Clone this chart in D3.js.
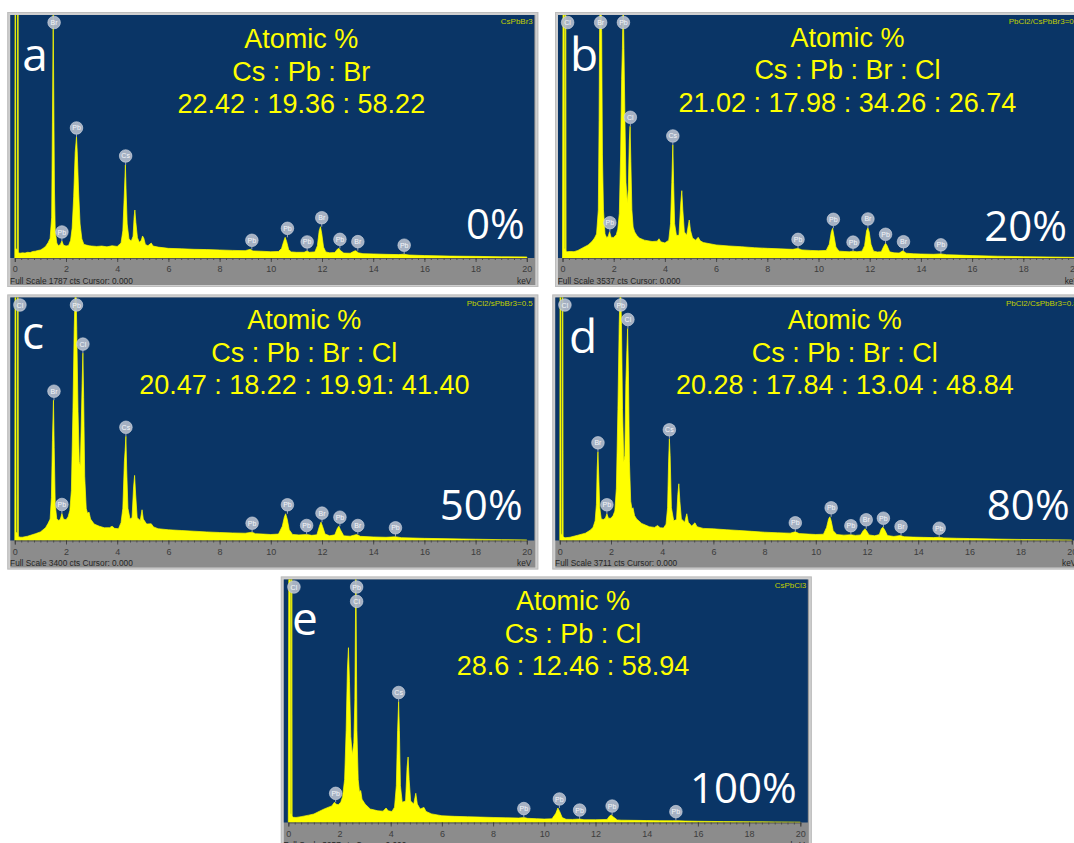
<!DOCTYPE html>
<html>
<head>
<meta charset="utf-8">
<script src="https://cdn.jsdelivr.net/npm/d3@7"></script>
<style>
  html, body { margin: 0; padding: 0; background: #ffffff; }
  svg { display: block; }
</style>
</head>
<body>
<svg id="fig" width="1074" height="843"></svg>
<script>
// ---------- data ----------
const panelLetters = ["a", "b", "c", "d", "e"];
const exchangeLevels = ["0%", "20%", "50%", "80%", "100%"];
const sampleNames = ["CsPbBr3", "PbCl2/CsPbBr3=0.2", "PbCl2/sPbBr3=0.5", "PbCl2/CsPbBr3=0.8", "CsPbCl3"];
const fullScaleCounts = [1787, 3537, 3400, 3711, 3957];
const titleLine = "Atomic %";
const elementHeaders = ["Cs : Pb : Br", "Cs : Pb : Br : Cl", "Cs : Pb : Br : Cl", "Cs : Pb : Br : Cl", "Cs : Pb : Cl"];
const atomicRatios = [
  "22.42 : 19.36 : 58.22",
  "21.02 : 17.98 : 34.26 : 26.74",
  "20.47 : 18.22 : 19.91: 41.40",
  "20.28 : 17.84 : 13.04 : 48.84",
  "28.6 : 12.46 : 58.94"
];
const keVTicks = [0, 2, 4, 6, 8, 10, 12, 14, 16, 18, 20];
const keVMinorTicks = d3.range(0, 20.001, 0.25);

// spectra: [energy keV, counts]
const spectrumA = [[0,0],[0.01,1900],[0.03,1900],[0.04,70],[0.1,60],[0.11,1900],[0.13,1900],[0.14,40],
  [0.2,35],[0.3,38],[0.4,36],[0.5,42],[0.6,40],[0.7,48],[0.8,50],[0.9,55],[1.0,59],[1.1,70],[1.2,85],[1.3,113],
  [1.38,145],[1.44,300],[1.47,1000],[1.50,1787],[1.52,1250],[1.55,500],[1.58,200],[1.64,110],[1.7,90],[1.78,100],
  [1.84,125],[1.9,95],[2.0,88],[2.1,92],[2.18,130],[2.24,220],[2.3,450],[2.36,780],[2.41,890],[2.44,780],[2.49,500],
  [2.55,250],[2.62,140],[2.7,100],[2.8,95],[2.9,90],[3.0,88],[3.2,85],[3.4,88],[3.6,82],[3.8,90],[4.0,85],[4.15,110],
  [4.22,200],[4.28,478],[4.32,684],[4.35,478],[4.39,250],[4.46,140],[4.55,125],[4.62,160],[4.66,300],[4.69,353],
  [4.73,260],[4.79,150],[4.86,115],[4.94,130],[4.99,162],[5.04,145],[5.1,100],[5.2,90],[5.33,110],[5.4,88],[5.6,80],
  [6.0,71],[6.5,68],[7.0,64],[7.5,62],[8.0,59],[8.5,56],[9.0,54],[9.2,64],[9.3,52],[9.6,50],[10.0,46],[10.3,48],
  [10.42,70],[10.5,120],[10.56,152],[10.62,120],[10.7,60],[10.8,45],[11.0,42],[11.3,42],[11.42,52],[11.5,42],
  [11.72,45],[11.82,90],[11.89,200],[11.94,230],[11.99,180],[12.06,80],[12.15,45],[12.3,38],[12.5,40],[12.6,65],
  [12.66,71],[12.72,55],[12.85,36],[13.1,35],[13.25,50],[13.32,54],[13.42,38],[13.6,32],[14.0,30],[14.5,27],
  [15.0,25],[15.18,28],[15.4,22],[16.0,18],[17.0,14],[18.0,12],[19.0,9],[20.0,8]];

const spectrumB = [[0,0],[0.02,3800],[0.07,3800],[0.08,150],[0.11,110],[0.12,3800],[0.13,3800],[0.14,100],
  [0.2,92],[0.3,95],[0.45,92],[0.6,110],[0.8,150],[1.0,189],[1.15,240],[1.25,290],[1.33,350],[1.40,700],[1.43,2000],
  [1.45,3350],[1.47,3800],[1.50,3800],[1.53,3300],[1.56,1500],[1.6,700],[1.66,350],[1.72,300],[1.78,310],[1.84,383],
  [1.9,300],[2.0,300],[2.1,340],[2.16,420],[2.22,650],[2.27,1500],[2.31,2600],[2.34,3050],[2.37,3800],[2.40,3050],
  [2.44,2000],[2.48,1100],[2.53,800],[2.57,1000],[2.61,1700],[2.64,1917],[2.67,1400],[2.71,700],[2.76,450],
  [2.82,380],[2.9,330],[3.0,290],[3.2,260],[3.5,240],[3.7,245],[3.77,280],[3.84,235],[4.0,220],[4.15,260],
  [4.22,500],[4.27,1100],[4.31,1645],[4.34,1100],[4.38,500],[4.45,330],[4.55,330],[4.62,800],[4.66,980],[4.70,700],
  [4.76,380],[4.85,330],[4.95,553],[5.0,400],[5.08,290],[5.2,260],[5.3,301],[5.38,250],[5.5,225],[6.0,190],
  [6.5,175],[7.0,164],[7.5,150],[8.0,141],[8.5,133],[9.0,126],[9.2,140],[9.35,118],[9.7,110],[10.0,106],[10.3,110],
  [10.42,200],[10.5,380],[10.55,432],[10.6,330],[10.68,160],[10.8,100],[11.0,95],[11.2,90],[11.35,100],[11.5,90],
  [11.7,100],[11.8,180],[11.88,400],[11.93,437],[11.98,380],[12.05,200],[12.15,100],[12.3,88],[12.45,90],
  [12.55,170],[12.62,214],[12.68,180],[12.78,90],[12.95,75],[13.15,72],[13.3,106],[13.42,70],[13.7,62],[14.0,58],
  [14.5,54],[14.78,60],[15.0,48],[15.5,42],[16.0,35],[17.0,26],[18.0,20],[19.0,15],[20.0,10]];

const spectrumC = [[0,0],[0.01,3800],[0.04,3800],[0.05,120],[0.1,100],[0.11,3800],[0.13,3800],[0.14,60],
  [0.2,46],[0.3,46],[0.5,60],[0.8,94],[1.0,120],[1.2,178],[1.3,240],[1.38,300],[1.43,600],[1.47,1400],[1.51,1963],
  [1.54,1300],[1.58,500],[1.64,300],[1.72,280],[1.78,300],[1.84,378],[1.9,300],[2.0,290],[2.08,330],[2.15,420],
  [2.21,700],[2.27,1800],[2.32,2950],[2.38,3800],[2.42,2950],[2.47,1800],[2.52,1100],[2.56,1050],[2.6,1700],
  [2.63,2197],[2.66,2622],[2.69,2000],[2.73,900],[2.79,450],[2.84,380],[2.9,397],[2.96,300],[3.1,230],[3.3,200],
  [3.5,178],[3.7,180],[3.8,200],[3.9,170],[4.05,164],[4.15,250],[4.22,450],[4.28,1100],[4.31,1262],[4.34,1458],
  [4.37,1000],[4.42,450],[4.5,300],[4.58,320],[4.64,750],[4.68,911],[4.72,650],[4.78,320],[4.9,280],[4.97,430],
  [5.02,300],[5.15,230],[5.33,234],[5.42,190],[5.6,165],[6.0,150],[6.5,140],[7.0,130],[7.5,120],[8.0,112],
  [8.5,106],[9.0,102],[9.27,116],[9.4,95],[9.7,90],[10.0,84],[10.3,90],[10.45,200],[10.53,330],[10.58,374],
  [10.64,300],[10.72,150],[10.85,85],[11.1,78],[11.4,84],[11.6,72],[11.8,80],[11.9,200],[11.96,257],[12.02,200],
  [12.12,90],[12.3,66],[12.5,80],[12.6,170],[12.66,200],[12.72,150],[12.85,65],[13.1,60],[13.35,84],[13.5,58],
  [14.0,50],[14.5,45],[14.87,52],[15.1,40],[16.0,30],[17.0,24],[18.0,18],[19.0,12],[20.0,8]];

const spectrumD = [[0,0],[0.01,4000],[0.04,4000],[0.05,100],[0.09,90],[0.1,4000],[0.12,4000],[0.13,60],
  [0.2,41],[0.4,50],[0.7,80],[1.0,112],[1.2,160],[1.3,203],[1.38,300],[1.43,550],[1.46,1100],[1.49,1354],
  [1.52,1000],[1.56,500],[1.62,330],[1.7,320],[1.78,340],[1.84,408],[1.9,340],[2.0,340],[2.08,380],[2.15,450],
  [2.21,800],[2.27,2000],[2.32,3300],[2.37,4000],[2.41,3300],[2.45,2000],[2.5,1200],[2.54,1300],[2.58,2400],
  [2.62,2900],[2.65,3237],[2.68,2600],[2.72,1200],[2.77,600],[2.82,480],[2.86,500],[2.92,380],[3.0,330],
  [3.2,260],[3.5,210],[3.7,200],[3.82,229],[3.92,195],[4.05,190],[4.15,250],[4.21,500],[4.25,1200],[4.28,1553],
  [4.31,1300],[4.36,500],[4.45,300],[4.56,320],[4.61,700],[4.65,866],[4.69,600],[4.75,330],[4.88,280],[4.96,408],
  [5.02,280],[5.15,220],[5.28,270],[5.36,210],[5.6,185],[6.0,178],[6.5,165],[7.0,153],[7.5,140],[8.0,127],
  [8.5,118],[9.0,112],[9.2,133],[9.35,105],[9.7,98],[10.0,92],[10.3,96],[10.42,200],[10.5,330],[10.55,362],
  [10.6,300],[10.68,150],[10.82,90],[11.1,82],[11.37,88],[11.55,78],[11.75,85],[11.85,150],[11.92,179],
  [11.98,150],[12.08,85],[12.3,72],[12.48,90],[12.56,180],[12.62,203],[12.68,170],[12.8,75],[13.05,62],
  [13.3,75],[13.45,58],[13.8,52],[14.2,48],[14.6,44],[14.82,50],[15.0,40],[15.5,34],[16.0,30],[17.0,22],
  [18.0,16],[19.0,12],[20.0,8]];

const spectrumE = [[0,0],[0.02,4200],[0.08,4200],[0.09,150],[0.12,130],[0.13,4200],[0.14,4200],[0.15,100],
  [0.2,85],[0.3,82],[0.5,95],[0.8,120],[1.0,138],[1.2,180],[1.4,220],[1.55,246],[1.7,270],[1.8,328],[1.86,300],
  [1.95,290],[2.05,330],[2.12,420],[2.2,700],[2.26,1500],[2.31,2500],[2.35,2847],[2.39,2300],[2.44,1400],
  [2.5,1100],[2.56,1300],[2.6,2000],[2.64,4200],[2.68,1500],[2.73,700],[2.78,500],[2.83,520],[2.88,380],
  [3.0,300],[3.2,220],[3.5,190],[3.7,185],[3.82,236],[3.9,190],[4.05,180],[4.15,250],[4.22,600],[4.27,1500],
  [4.31,1970],[4.34,1500],[4.38,600],[4.45,330],[4.58,350],[4.64,900],[4.68,1067],[4.72,700],[4.78,350],
  [4.9,300],[4.98,476],[5.04,300],[5.15,220],[5.3,246],[5.38,180],[5.6,140],[6.0,110],[6.5,100],[7.0,94],
  [7.5,88],[8.0,82],[8.5,77],[9.0,72],[9.2,80],[9.35,68],[9.7,62],[10.0,56],[10.3,60],[10.45,150],[10.53,236],
  [10.6,180],[10.7,80],[10.85,52],[11.1,50],[11.38,56],[11.55,46],[12.0,45],[12.45,50],[12.56,110],[12.62,121],
  [12.7,90],[12.85,42],[13.0,38],[13.5,35],[14.0,32],[14.5,30],[15.0,28],[15.14,30],[15.5,24],[16.0,20],
  [17.0,15],[18.0,12],[19.0,10],[20.0,6]];

// element line markers: [element, energy keV, stack level]
const markersA = [["Br",1.535],["Pb",1.84],["Pb",2.41],["Cs",4.33],["Pb",9.26],["Pb",10.65],["Pb",11.42],
  ["Br",11.99],["Pb",12.7],["Br",13.4],["Pb",15.21]];
const markersB = [["Cl",0.2],["Br",1.49],["Pb",1.85],["Pb",2.38],["Cl",2.65],["Cs",4.31],["Pb",9.2],
  ["Pb",10.58],["Pb",11.35],["Br",11.93],["Pb",12.62],["Br",13.32],["Pb",14.78]];
const markersC = [["Cl",0.2],["Br",1.53],["Pb",1.84],["Pb",2.41],["Cl",2.66],["Cs",4.34],["Pb",9.27],
  ["Pb",10.65],["Pb",11.4],["Br",12.0],["Pb",12.7],["Br",13.4],["Pb",14.87]];
const markersD = [["Cl",0.2],["Br",1.49],["Pb",1.84],["Pb",2.38],["Cl",2.66],["Cs",4.28],["Pb",9.2],
  ["Pb",10.6],["Pb",11.37],["Br",11.97],["Pb",12.64],["Br",13.33],["Pb",14.82]];
const markersE = [["Cl",0.22],["Pb",1.85],["Pb",2.67,0],["Cl",2.67,1],["Cs",4.31],["Pb",9.2],["Pb",10.59],
  ["Pb",11.38],["Pb",12.65],["Pb",15.14]];

const spectra = [spectrumA, spectrumB, spectrumC, spectrumD, spectrumE];
const markerSets = [markersA, markersB, markersC, markersD, markersE];

// ---------- layout ----------
const frameW = 531, frameH = 275;
const plotTop = 3, plotBottom = 246;
const placement = [
  { x: 7.3,   y: 12,    cx: 294,   ty: 36.2, lx: 15,   ly: 58.7, px: 517.4, py: 227.3 },
  { x: 555,   y: 12,    cx: 292.4, ty: 34.7, lx: 15,   ly: 58.7, px: 512,   py: 228.7 },
  { x: 7.3,   y: 294.5, cx: 297,   ty: 34.8, lx: 14.7, ly: 54.5, px: 515.3, py: 225.5 },
  { x: 552.3, y: 294.5, cx: 292.5, ty: 34.6, lx: 16.7, ly: 58.8, px: 517.3, py: 225.5 },
  { x: 280.8, y: 576.5, cx: 292.2, ty: 33.6, lx: 11.2, ly: 58.5, px: 515.9, py: 226.8 }
];

const svg = d3.select("#fig");
const defs = svg.append("defs");

function peakCounts(spec, e) {
  let m = 0;
  spec.forEach(([k, c]) => { if (Math.abs(k - e) <= 0.15) m = Math.max(m, c); });
  return m;
}

placement.forEach((P, i) => {
  const g = svg.append("g").attr("transform", `translate(${P.x},${P.y})`);
  const fs = fullScaleCounts[i];
  const spec = spectra[i];

  // window frame, status strip and plot area
  g.append("rect").attr("width", frameW).attr("height", frameH).attr("fill", "#cfcfcf");
  g.append("rect").attr("x", 0.5).attr("y", 0.5).attr("width", frameW - 1).attr("height", frameH - 1)
    .attr("fill", "none").attr("stroke", "#bdbdbd").attr("stroke-width", 1);
  g.append("rect").attr("x", 3).attr("y", 3).attr("width", 525).attr("height", 270).attr("fill", "#8c8c8c");
  g.append("rect").attr("x", 3).attr("y", plotTop).attr("width", 524).attr("height", plotBottom - plotTop)
    .attr("fill", "#0a3566");

  const x = d3.scaleLinear().domain([0, 20]).range([7.5, 519.5]);
  const y = d3.scaleLinear().domain([0, fs]).range([plotBottom, plotTop]);

  // clip rectangle in the panel's own coordinates
  const clipId = "plotclip" + i;
  defs.append("clipPath").attr("id", clipId)
    .append("rect").attr("x", 3).attr("y", plotTop).attr("width", 524).attr("height", plotBottom - plotTop);

  const area = d3.area()
    .x(d => x(d[0]))
    .y0(y(0))
    .y1(d => y(d[1]));

  const plot = g.append("g").attr("clip-path", `url(#${clipId})`);
  plot.append("path").datum(spec).attr("d", area)
    .attr("fill", "#ffff00").attr("stroke", "#ffff00").attr("stroke-width", 0.7)
    .attr("stroke-linejoin", "round");

  // element markers
  markerSets[i].forEach(m => {
    const [el, e, stack = 0] = m;
    const peakY = y(peakCounts(spec, e));
    const r = 6.3;
    const cy = Math.max(peakY - 9, plotTop + 7.5) + stack * 14.4;
    const cxm = x(e);
    if (peakY > cy + r) {
      plot.append("line").attr("x1", cxm).attr("x2", cxm).attr("y1", cy + r).attr("y2", peakY)
        .attr("stroke", "#9aa3b3").attr("stroke-width", 1);
    }
    plot.append("circle").attr("cx", cxm).attr("cy", cy).attr("r", r)
      .attr("fill", "#b3bccb").attr("fill-opacity", 0.92)
      .attr("stroke", "#d4dae4").attr("stroke-width", 0.6);
    plot.append("text").attr("x", cxm).attr("y", cy + 2.5)
      .attr("text-anchor", "middle")
      .attr("font-family", "Liberation Sans, Arial, sans-serif")
      .attr("font-size", 7).attr("fill", "#f4f6fa")
      .text(el);
  });

  // energy axis
  const minorAxis = d3.axisBottom(x).tickValues(keVMinorTicks).tickSize(2).tickFormat("");
  g.append("g").attr("transform", `translate(0,${plotBottom})`).call(minorAxis)
    .call(a => a.select(".domain").remove())
    .call(a => a.selectAll("line").attr("stroke", "#3a3a3a").attr("stroke-width", 0.8));
  const majorAxis = d3.axisBottom(x).tickValues(keVTicks).tickSize(4).tickPadding(4).tickFormat(d3.format("d"));
  g.append("g").attr("transform", `translate(0,${plotBottom})`).call(majorAxis)
    .call(a => a.select(".domain").attr("stroke", "#4a4a4a").attr("stroke-width", 0.8))
    .call(a => a.selectAll("line").attr("stroke", "#3a3a3a").attr("stroke-width", 0.8))
    .call(a => a.selectAll("text")
      .attr("font-family", "Liberation Sans, Arial, sans-serif")
      .attr("font-size", 9).attr("fill", "#3c3c3c"));

  // status line
  g.append("text").attr("x", 2.8).attr("y", 271.5)
    .attr("font-family", "Liberation Sans, Arial, sans-serif")
    .attr("font-size", 8.3).attr("fill", "#262626")
    .text(`Full Scale ${fs} cts Cursor: 0.000`);
  g.append("text").attr("x", 524).attr("y", 271.5).attr("text-anchor", "end")
    .attr("font-family", "Liberation Sans, Arial, sans-serif")
    .attr("font-size", 8.3).attr("fill", "#262626")
    .text("keV");

  // sample name
  g.append("text").attr("x", 525.5).attr("y", 11.5).attr("text-anchor", "end")
    .attr("font-family", "Liberation Sans, Arial, sans-serif")
    .attr("font-size", 8).attr("fill", "#c2d000")
    .text(sampleNames[i]);

  // composition text
  const lines = [titleLine, elementHeaders[i], atomicRatios[i]];
  lines.forEach((t, k) => {
    g.append("text").attr("x", P.cx).attr("y", P.ty + k * 32.5)
      .attr("text-anchor", "middle")
      .attr("font-family", "Liberation Sans, Arial, sans-serif")
      .attr("font-size", 27).attr("fill", "#ffff00")
      .text(t);
  });

  // panel letter and exchange level
  g.append("text").attr("x", P.lx).attr("y", P.ly)
    .attr("font-family", "Open Sans, sans-serif").attr("font-size", 46).attr("fill", "#ffffff")
    .text(panelLetters[i]);
  g.append("text").attr("x", P.px).attr("y", P.py).attr("text-anchor", "end")
    .attr("font-family", "Open Sans, sans-serif").attr("font-size", 42).attr("fill", "#ffffff")
    .text(exchangeLevels[i]);
});
</script>
</body>
</html>
